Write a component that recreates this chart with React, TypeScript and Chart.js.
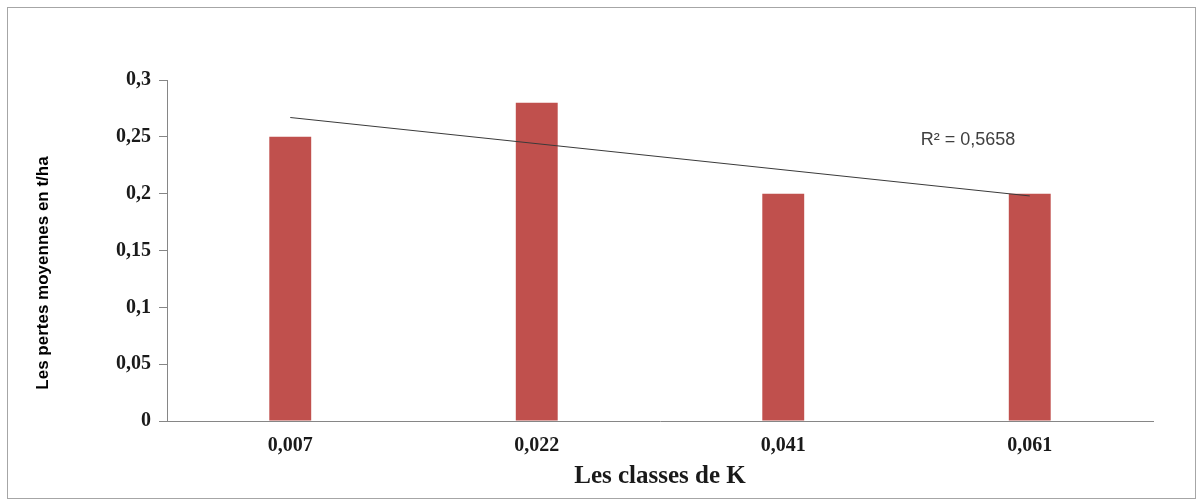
import React, { useEffect, useRef } from "react";
import { Chart, registerables } from "chart.js";

Chart.register(...registerables);

const categories = ["0,007", "0,022", "0,041", "0,061"];
const meanLosses = [0.25, 0.28, 0.2, 0.2];
const trendLine = [0.267, null, null, 0.198];
const yTickLabels = ["0", "0,05", "0,1", "0,15", "0,2", "0,25", "0,3"];
const r2Label = "R² = 0,5658";
const yTitle = "Les pertes moyennes en t/ha";
const xTitle = "Les classes de K";

const W = 1197;
const H = 501;

const decorPlugin = {
  id: "decor",
  beforeDraw(chart: any) {
    const ctx = chart.ctx;
    ctx.save();
    ctx.fillStyle = "#ffffff";
    ctx.fillRect(0, 0, W, H);
    ctx.strokeStyle = "#a6a6a6";
    ctx.lineWidth = 1;
    ctx.strokeRect(7.5, 7.5, 1188, 491);
    ctx.restore();
  },
  afterDraw(chart: any) {
    const ctx = chart.ctx;
    ctx.save();
    ctx.fillStyle = "#404040";
    ctx.font = "18px 'Liberation Sans'";
    ctx.textAlign = "center";
    ctx.textBaseline = "middle";
    ctx.fillText(r2Label, 968, 140);
    ctx.translate(43, 273);
    ctx.rotate(-Math.PI / 2);
    ctx.fillStyle = "#000000";
    ctx.font = "bold 17px 'Liberation Sans'";
    ctx.fillText(yTitle, 0, 0);
    ctx.restore();
  },
};

export default function App() {
  const ref = useRef<HTMLCanvasElement>(null);
  useEffect(() => {
    if (!ref.current) return;
    const chart = new Chart(ref.current, {
      type: "bar",
      data: {
        labels: categories,
        datasets: [
          {
            type: "line",
            data: trendLine as any,
            borderColor: "#3a3a3a",
            borderWidth: 1,
            pointRadius: 0,
            spanGaps: true,
            fill: false,
            order: 0,
          } as any,
          {
            type: "bar",
            data: meanLosses,
            backgroundColor: "#C0504D",
            barPercentage: 0.17,
            categoryPercentage: 1,
            order: 1,
          },
        ],
      },
      options: {
        responsive: false,
        animation: false,
        layout: { padding: { left: 0, top: 80, right: 44, bottom: 0 } },
        plugins: { legend: { display: false }, tooltip: { enabled: false } },
        scales: {
          x: {
            grid: { display: false, drawTicks: false },
            border: { display: true, color: "#868686", width: 1 },
            ticks: {
              padding: 13,
              color: "#1a1a1a",
              font: { family: "'Liberation Serif'", size: 20, weight: "bold" },
            },
            title: {
              display: true,
              text: xTitle,
              color: "#1a1a1a",
              font: { family: "'Liberation Serif'", size: 25, weight: "bold" },
              padding: { top: 0, bottom: 9 },
            },
            afterFit(scale: any) {
              scale.height = 80;
            },
          },
          y: {
            min: 0,
            max: 0.3,
            grid: {
              display: true,
              drawOnChartArea: false,
              drawTicks: true,
              tickLength: 8,
              color: "#868686",
            },
            border: { display: true, color: "#868686", width: 1 },
            ticks: {
              stepSize: 0.05,
              padding: 8,
              color: "#1a1a1a",
              font: { family: "'Liberation Serif'", size: 20, weight: "bold" },
              callback: (_v: any, i: number) => yTickLabels[i],
            },
            afterFit(scale: any) {
              scale.width = 167;
            },
          },
        },
      },
      plugins: [decorPlugin],
    });
    return () => chart.destroy();
  }, []);
  return (
    <div style={{ position: "absolute", left: 0, top: 0, width: W, height: H }}>
      <canvas ref={ref} width={W} height={H} style={{ width: W, height: H, display: "block" }} />
    </div>
  );
}
